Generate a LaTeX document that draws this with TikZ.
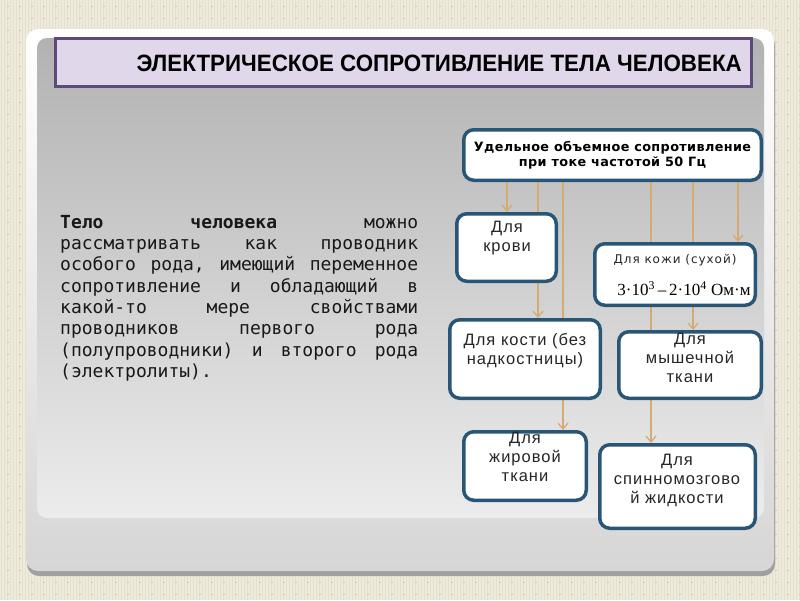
\documentclass[tikz,border=0pt]{standalone}
\usepackage{fontspec}
\setmainfont{Liberation Sans}
\newfontfamily\bodyfont{DejaVu Sans Mono}
\newfontfamily\headfont[LetterSpace=3]{DejaVu Sans}
\newfontfamily\skinfont[LetterSpace=8]{DejaVu Sans}
\newfontfamily\boxfont[LetterSpace=6]{Liberation Sans}
\newfontfamily\unitfont{Liberation Serif}
\usetikzlibrary{arrows.meta}

\definecolor{paper}{RGB}{238,234,220}
\definecolor{paperline}{RGB}{229,223,206}
\definecolor{paperdot}{RGB}{206,198,178}
\definecolor{panelgray}{RGB}{214,214,214}
\definecolor{shadowgray}{RGB}{160,160,160}
\definecolor{innertop}{RGB}{178,178,178}
\definecolor{innerbot}{RGB}{236,236,236}
\definecolor{titlefill}{RGB}{224,216,234}
\definecolor{titleline}{RGB}{94,74,122}
\definecolor{boxblue}{RGB}{41,86,118}
\definecolor{feedtan}{RGB}{214,170,115}

\pgfdeclarelayer{back}
\pgfdeclarelayer{mid}
\pgfsetlayers{back,mid,main}

\tikzset{
  block/.style={draw=boxblue, line width=3.5pt, rounded corners=10pt, fill=white, inner sep=0pt},
  boxtext/.style={font=\boxfont\fontsize{16.5pt}{19pt}\selectfont, align=center, text=black!85, inner sep=0pt},
  feed/.style={draw=feedtan, line width=1.3pt, -{Straight Barb[length=6pt,width=10pt]}}
}

\begin{document}
\begin{tikzpicture}[x=1pt,y=-1pt]
\useasboundingbox (0,0) rectangle (800,600);

% backdrop
\begin{pgfonlayer}{back}
  \fill[paper] (0,0) rectangle (800,600);
  \foreach \x in {1.5,4.5,...,800}
    \draw[paperline, line width=0.7pt] (\x,0) -- (\x,600);
  \foreach \x in {8,20,...,800}
    \draw[paperdot, line width=1.2pt, dash pattern=on 1.2pt off 10.8pt] (\x,6) -- (\x,600);
  \fill[shadowgray, rounded corners=12pt] (27,33) rectangle (775,576);
  \shade[rounded corners=12pt, top color=white, bottom color=panelgray] (26,29) rectangle (774,571);
  \shade[rounded corners=10pt, top color=innertop, bottom color=innerbot] (37,38) rectangle (764,518);
\end{pgfonlayer}

% title
\node[draw=titleline, line width=3pt, fill=titlefill, minimum width=696pt, minimum height=48pt, inner sep=0pt] (title) at (403.5,62.5) {};
\node[anchor=base east, inner sep=0pt] (title-t) at (742,71.5)
  {\resizebox{605pt}{16.5pt}{\bfseries ЭЛЕКТРИЧЕСКОЕ СОПРОТИВЛЕНИЕ ТЕЛА ЧЕЛОВЕКА}};

% text on the left
\node[anchor=north west, inner sep=0pt, align=left, text=black!90,
      font=\bodyfont\fontsize{18pt}{21.3pt}\selectfont] (body) at (60,215) {%
  \hbox to 358pt{\textbf{Тело}\hfill\textbf{человека}\hfill можно}\\
  \hbox to 358pt{рассматривать\hfill как\hfill проводник}\\
  \hbox to 358pt{особого\hfill рода,\hfill имеющий\hfill переменное}\\
  \hbox to 358pt{сопротивление\hfill и\hfill обладающий\hfill в}\\
  \hbox to 358pt{какой-то\hfill мере\hfill свойствами}\\
  \hbox to 358pt{проводников\hfill первого\hfill рода}\\
  \hbox to 358pt{(полупроводники)\hfill и\hfill второго\hfill рода}\\
  (электролиты).};

% boxes
\node[block, minimum width=297.5pt, minimum height=50.5pt, align=center,
      font=\headfont\bfseries\fontsize{12.8pt}{15pt}\selectfont] (rho) at (612.5,155)
  {Удельное объемное сопротивление\\при токе частотой 50 Гц};
\node[block, minimum width=99.5pt, minimum height=67.5pt] (blood) at (506.5,247.5) {};
\node[boxtext] (blood-t) at (507,238) {Для\\крови};
\node[block, minimum width=160.5pt, minimum height=61.5pt] (skin) at (675,274.5) {};
\node[boxtext, font=\skinfont\fontsize{12pt}{14pt}\selectfont] (skin-t) at (675,260) {Для кожи (сухой)};
\node[inner sep=0pt, font=\unitfont\fontsize{17pt}{20pt}\selectfont] (skin-v) at (684,289)
  {3·10\textsuperscript{3}\,–\,2·10\textsuperscript{4} Ом·м};
\node[block, minimum width=150.5pt, minimum height=78.5pt] (bone) at (525,359) {};
\node[boxtext] (bone-t) at (525,351) {Для кости (без\\надкостницы)};
\node[block, minimum width=142.5pt, minimum height=66.5pt] (muscle) at (690,365) {};
\node[boxtext] (muscle-t) at (690,358) {Для\\мышечной\\ткани};
\node[block, minimum width=122.5pt, minimum height=68.5pt] (fat) at (525,466) {};
\node[boxtext] (fat-t) at (525,457) {Для\\жировой\\ткани};
\node[block, minimum width=155.5pt, minimum height=83.5pt] (spine) at (677.5,486.5) {};
\node[boxtext] (spine-t) at (677,480) {Для\\спинномозгово\\й жидкости};

% connectors
\begin{pgfonlayer}{mid}
  \draw[feed] (rho.south -| 507,0) -- (blood.north -| 507,0);
  \draw[feed] (rho.south -| 538,0) -- (bone.north -| 538,0);
  \draw[feed] (rho.south -| 563,0) -- (fat.north -| 563,0);
  \draw[feed] (rho.south -| 651,0) -- (spine.north -| 651,0);
  \draw[feed] (rho.south -| 693,0) -- (muscle.north -| 693,0);
  \draw[feed] (rho.south -| 738,0) -- (skin.north -| 738,0);
\end{pgfonlayer}
\end{tikzpicture}
\end{document}
